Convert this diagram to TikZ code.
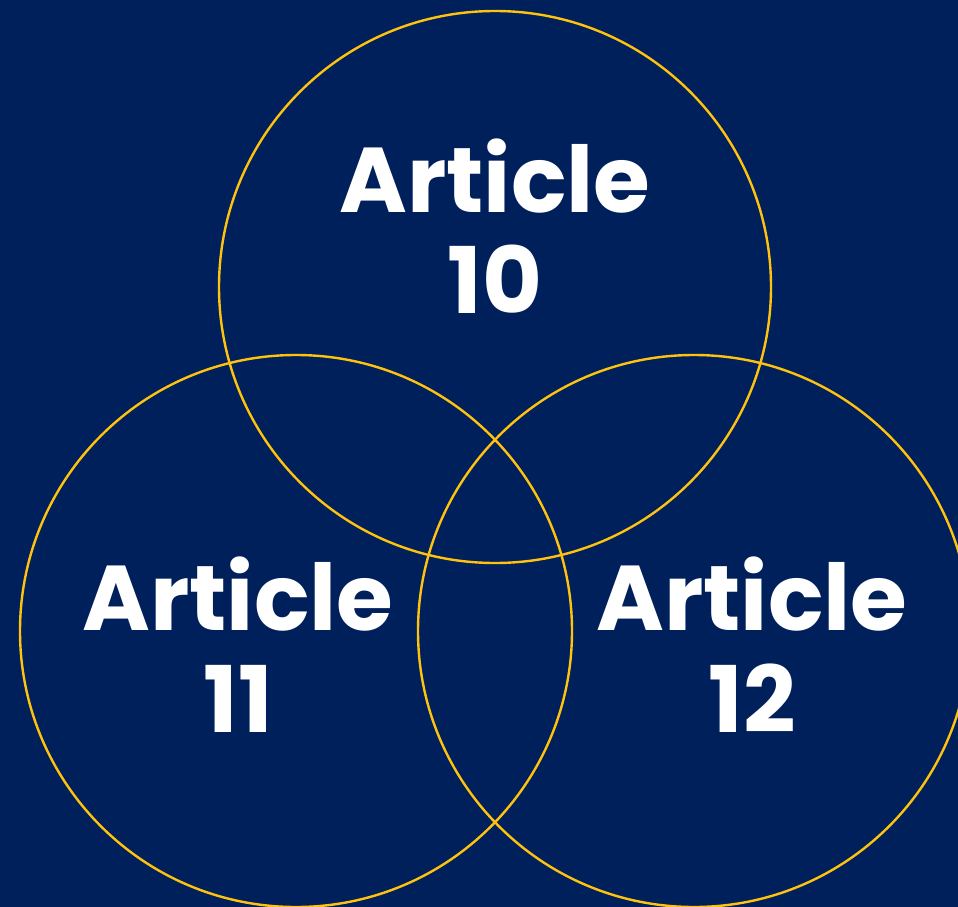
\documentclass[tikz,border=0pt]{standalone}
\usepackage{fontspec}
\setmainfont{Poppins}
\definecolor{navy}{RGB}{0,32,91}
\definecolor{gold}{RGB}{255,194,14}
\tikzset{
  venn/.style={circle, draw=gold, line width=2.4pt, minimum size=552pt, inner sep=0pt},
  label/.style={anchor=base, text=white, inner sep=0pt, font=\fontsize{92}{100}\selectfont\bfseries},
}
\begin{document}
\begin{tikzpicture}[x=1pt,y=1pt,yscale=-1,xscale=1]
%Background
\fill[navy] (0,0) rectangle (958,907);
\useasboundingbox (0,0) rectangle (958,907);

%Shape: Circle [top]
\node[venn] (c10) at (495,287) {};
%Shape: Circle [left]
\node[venn] (c11) at (296,631) {};
%Shape: Circle [right]
\node[venn] (c12) at (694,631) {};

% Text Node
\node[label] (a10) at (495,212) {Article};
\node[label] (n10) at (495,313) {10};
% Text Node
\node[label] (a11) at (238,630) {Article};
\node[label] (n11) at (238,732) {11};
% Text Node
\node[label] (a12) at (752,630) {Article};
\node[label] (n12) at (752,732) {12};

\end{tikzpicture}
\end{document}
